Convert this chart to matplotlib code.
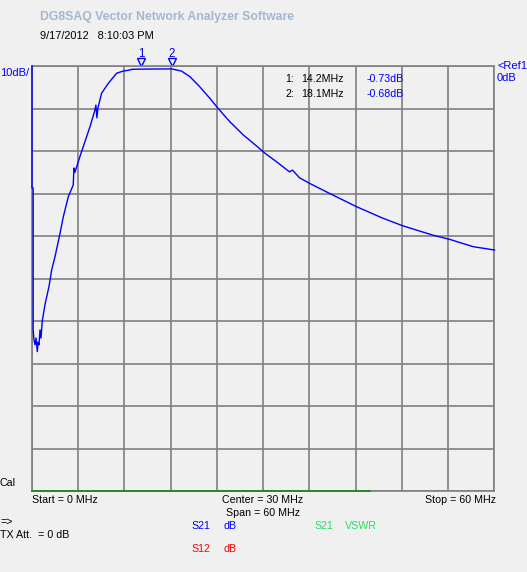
import matplotlib
matplotlib.use("Agg")
import matplotlib.pyplot as plt
from matplotlib.transforms import offset_copy

# ---- data ----
freq_mhz = [0.0, 0.0, 0.15, 0.15, 0.26, 0.39, 0.52, 0.69, 0.78, 0.91, 1.04, 1.17, 1.33,
            1.68, 2.20, 2.55, 2.98, 3.54, 4.06, 4.70, 5.35, 5.44, 5.57, 6.22, 6.87,
            7.52, 8.16, 8.29, 8.42, 8.55, 9.03, 9.89, 10.98, 11.83, 12.70, 12.92,
            14.2, 18.1, 19.4, 20.48, 21.77, 23.07, 24.15, 25.66, 27.39, 29.12,
            30.20, 31.70, 33.40, 33.80, 34.70, 36.00, 38.40, 42.10, 45.50, 48.10,
            52.00, 54.20, 57.20, 60.0]
s21_db = [0.0, -28.7, -28.7, -62.1, -64.5, -65.6, -64.0, -67.2, -65.0, -65.6, -62.1, -64.0, -60.0,
          -56.2, -51.9, -48.0, -44.9, -40.2, -35.5, -30.8, -28.0, -24.0, -25.0, -21.3, -17.8,
          -14.3, -10.4, -9.2, -12.2, -9.9, -6.4, -4.1, -1.7, -1.2, -0.94, -0.78,
          -0.73, -0.68, -1.2, -2.5, -4.9, -7.6, -10.0, -13.1, -16.2, -18.8,
          -20.5, -22.5, -24.9, -24.5, -26.3, -27.6, -29.8, -33.1, -35.8, -37.6,
          -39.8, -40.8, -42.5, -43.3]
vswr_freq = [0.0, 43.8]
vswr_val = [-100.0, -100.0]
marker_ids = ["1", "2"]
marker_freq = [14.2, 18.1]
marker_db = [-0.73, -0.68]
start_mhz, stop_mhz = 0, 60
ref_db, db_per_div = 0, 10

W, H = 527, 572
BG = "#f0f0f0"
BLUE = "#0000ff"
GRID = "#808080"
FONT = "Liberation Sans"
FS = 7.7

fig = plt.figure(figsize=(W / 100, H / 100), dpi=100, facecolor=BG)

def fx(x):
    return x / W

def fy(y):
    return 1 - y / H

L, R, T, B = 32, 494.5, 66, 491
ax = fig.add_axes([fx(L), fy(B), (R - L) / W, (B - T) / H])
ax.set_facecolor(BG)
ax.set_xlim(start_mhz, stop_mhz)
ax.set_ylim(ref_db - 10 * db_per_div, ref_db)
ax.set_xticks([start_mhz + i * (stop_mhz - start_mhz) / 10 for i in range(11)])
ax.set_yticks([ref_db - i * db_per_div for i in range(11)])
ax.tick_params(length=0, labelbottom=False, labelleft=False)
ax.grid(True, color=GRID, linewidth=1.2)
for s in ax.spines.values():
    s.set_color(GRID)
    s.set_linewidth(1.2)

ax.plot(vswr_freq, vswr_val, color="#208a20", linewidth=1.3, clip_on=False, zorder=3)
ax.plot(freq_mhz, s21_db, color=BLUE, linewidth=1.0, clip_on=False, zorder=4)

# markers
tr = offset_copy(ax.transData, fig=fig, x=0, y=3.0, units='points')
for mid, mf in zip(marker_ids, marker_freq):
    ax.plot([mf], [ref_db], marker='v', markersize=5.5, markerfacecolor='none',
            markeredgecolor=BLUE, markeredgewidth=1.0, transform=tr, clip_on=False)
    ax.annotate(mid, xy=(mf, ref_db), xytext=(0, 4.5), textcoords='offset points',
                ha='center', va='bottom', color=BLUE, fontsize=8.3, family=FONT,
                annotation_clip=False)

def t(x, y, s, color='black', size=FS, **kw):
    fig.text(fx(x), fy(y), s, color=color, fontsize=size, family=FONT,
             va='center', **kw)

t(40, 17, "DG8SAQ Vector Network Analyzer Software", color="#a3b8d0", size=8.8,
  weight='bold')
t(40, 36, "9/17/2012   8:10:03 PM", size=7.9)
t(0, 73, "10dB/", color=BLUE, size=8.0)
t(497, 66, "<Ref1", color=BLUE, size=8.0)
t(497, 78, "0dB", color=BLUE, size=8.0)

t(285, 79, "1:", )
t(301, 79, f"{marker_freq[0]}MHz")
t(285, 94, "2:")
t(301, 94, f"{marker_freq[1]}MHz")
t(367, 79, f"{marker_db[0]:.2f}dB", color=BLUE)
t(367, 94, f"{marker_db[1]:.2f}dB", color=BLUE)

t(0, 483, "Cal")
t(32, 500, f"Start = {start_mhz} MHz")
t(222, 500, f"Center = {(start_mhz + stop_mhz) // 2} MHz")
t(226, 513, f"Span = {stop_mhz - start_mhz} MHz")
t(496, 500, f"Stop = {stop_mhz} MHz", ha='right')
t(0, 522, "=>")
t(0, 535, "TX Att.  = 0 dB")
t(191, 526, "S21", color=BLUE)
t(223, 526, "dB", color=BLUE)
t(314, 526, "S21", color="#20e060")
t(345, 526, "VSWR", color="#20e060")
t(191, 549, "S12", color="#ff0000")
t(223, 549, "dB", color="#ff0000")

fig.savefig("out.png", dpi=100, facecolor=BG)
